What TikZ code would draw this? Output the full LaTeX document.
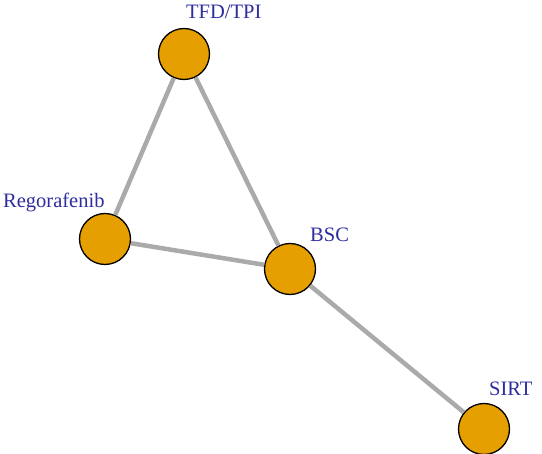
\documentclass[tikz,border=0pt]{standalone}
\usepackage{fontspec}
\setmainfont{Liberation Serif}
\definecolor{nodefill}{RGB}{230,159,0}
\definecolor{edgegray}{RGB}{170,170,170}
\definecolor{labelblue}{RGB}{45,45,160}
\tikzset{
  trt/.style={circle,draw=black,line width=1.3pt,fill=nodefill,minimum size=51pt,inner sep=0pt},
  lbl/.style={anchor=base west,text=labelblue,font=\fontsize{20.5}{23}\selectfont,inner sep=0pt},
  edge/.style={draw=edgegray,line width=4.5pt}
}
\begin{document}
\begin{tikzpicture}[x=1pt,y=-1pt]
\useasboundingbox (0,0) rectangle (542,454);
\node[trt] (tfd) at (184,54) {};
\node[trt] (reg) at (105,239) {};
\node[trt] (bsc) at (290,269) {};
\node[trt] (sirt) at (484,429) {};
\path[edge] (tfd) -- (reg);
\path[edge] (tfd) -- (bsc);
\path[edge] (reg) -- (bsc);
\path[edge] (bsc) -- (sirt);
\node[lbl] (ltfd) at (186,19) {TFD/TPI};
\node[lbl] (lreg) at (3,208) {Regorafenib};
\node[lbl] (lbsc) at (310,242) {BSC};
\node[lbl] (lsirt) at (489,396) {SIRT};
\end{tikzpicture}
\end{document}
